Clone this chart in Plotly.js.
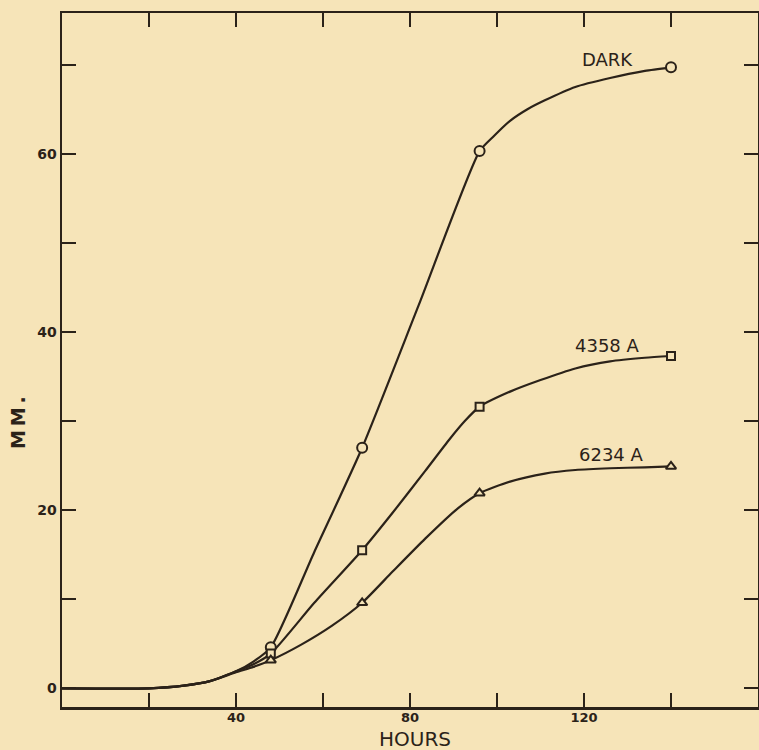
<!DOCTYPE html>
<html>
<head>
<meta charset="utf-8">
<script src="https://cdn.plot.ly/plotly-3.0.1.min.js"></script>
<style>
  html, body { margin: 0; padding: 0; background: #f6e4b8; }
  #chart { width: 759px; height: 750px; }
</style>
</head>
<body>
<div id="chart"></div>
<script>
// Measured points (hours, mm)
const hours = [48, 69, 96, 140];
const dark = [4.6, 27.0, 60.3, 69.7];
const w4358 = [3.9, 15.5, 31.6, 37.3];
const w6234 = [3.15, 9.6, 21.9, 24.9];

// Hand-drawn curves
const darkCurveX = [0, 20, 28, 34, 40, 44, 48, 58, 69, 82, 96, 99.3, 103, 107, 111, 118, 126, 134, 140];
const darkCurveY = [0, 0, 0.3, 0.8, 1.9, 3.0, 4.6, 15.3, 27.0, 43.0, 60.3, 62.0, 63.7, 65.0, 66.0, 67.5, 68.5, 69.3, 69.7];
const c4358X = [0, 20, 28, 34, 40, 44, 48, 58, 69, 76, 83.5, 89, 92.6, 96, 103, 110, 118, 126, 134, 140];
const c4358Y = [0, 0, 0.3, 0.8, 1.9, 2.7, 3.9, 9.6, 15.5, 19.7, 24.4, 27.9, 30.0, 31.6, 33.3, 34.6, 35.9, 36.7, 37.1, 37.3];
const c6234X = [0, 20, 28, 34, 40, 44, 48, 55, 62, 69, 76, 83.5, 91, 96, 103, 111, 118, 126, 134, 140];
const c6234Y = [0, 0, 0.3, 0.8, 1.8, 2.4, 3.15, 4.9, 7.0, 9.6, 13.1, 16.8, 20.2, 21.9, 23.2, 24.1, 24.5, 24.7, 24.8, 24.9];

// Axis ticks
const xTickVals = [20, 40, 60, 80, 100, 120, 140];
const xTickText = ['', '40', '', '80', '', '120', ''];
const yTickVals = [0, 10, 20, 30, 40, 50, 60, 70];
const yTickText = ['0', '', '20', '', '40', '', '60', ''];

// Curve labels
const labelText = ['DARK', '4358 A', '6234 A'];
const labelX = [125.3, 125.5, 126.4];
const labelY = [70.6, 38.5, 26.2];

const ink = '#2b2219';
const bg = '#f6e4b8';

function curve(x, y) {
  return { x: x, y: y, mode: 'lines', type: 'scatter',
    line: { color: ink, width: 2.2, shape: 'spline', smoothing: 0.6 },
    hoverinfo: 'skip', showlegend: false };
}
function pts(y, sym, size) {
  return { x: hours, y: y, mode: 'markers', type: 'scatter',
    marker: { symbol: sym, size: size, color: bg, line: { color: ink, width: 2 } },
    showlegend: false };
}

const data = [
  curve(darkCurveX, darkCurveY),
  curve(c4358X, c4358Y),
  curve(c6234X, c6234Y),
  pts(dark, 'circle', 10),
  pts(w4358, 'square', 8),
  pts(w6234, 'triangle-up', 9)
];

const annotations = labelText.map((t, i) => ({
  x: labelX[i], y: labelY[i], xref: 'x', yref: 'y', text: t, showarrow: false,
  xanchor: 'center', yanchor: 'middle',
  font: { family: 'DejaVu Sans', size: 18, color: ink }
}));

const plotW = 759 - 62 - 1, plotH = 750 - 13 - 43;
// y-axis title
annotations.push({
  x: (18 - 62) / plotW, y: (750 - 43 - 422) / plotH, xref: 'paper', yref: 'paper',
  xanchor: 'center', yanchor: 'middle',
  text: 'M\u2009M\u2009.', showarrow: false,
  textangle: -90, font: { family: 'DejaVu Sans', size: 19, color: ink, weight: 'bold' }
});
// x-axis title
annotations.push({
  x: (415 - 62) / plotW, y: (707 - 753) / plotH, xref: 'paper', yref: 'paper',
  xanchor: 'center', yanchor: 'bottom',
  text: 'HOURS', showarrow: false,
  font: { family: 'DejaVu Sans', size: 20, color: ink }
});

const axisCommon = {
  showline: true, linewidth: 2.5, linecolor: ink, mirror: 'ticks',
  ticks: 'inside', ticklen: 14, tickwidth: 2, tickcolor: ink,
  showgrid: false, zeroline: false, tickmode: 'array',
  tickfont: { family: 'DejaVu Sans', size: 14, color: ink, weight: 'bold' }
};

const layout = {
  width: 759, height: 750,
  margin: { l: 62, r: 1, t: 13, b: 43 },
  paper_bgcolor: bg, plot_bgcolor: bg,
  xaxis: Object.assign({}, axisCommon, {
    range: [0, 160], tickvals: xTickVals, ticktext: xTickText,
    ticklabelstandoff: -3,
    tickfont: { family: 'DejaVu Sans', size: 13, color: ink, weight: 'bold' }
  }),
  yaxis: Object.assign({}, axisCommon, {
    range: [-2.1, 75.8], tickvals: yTickVals, ticktext: yTickText
  }),
  annotations: annotations
};

Plotly.newPlot('chart', data, layout, { displayModeBar: false, staticPlot: true });
</script>
</body>
</html>
